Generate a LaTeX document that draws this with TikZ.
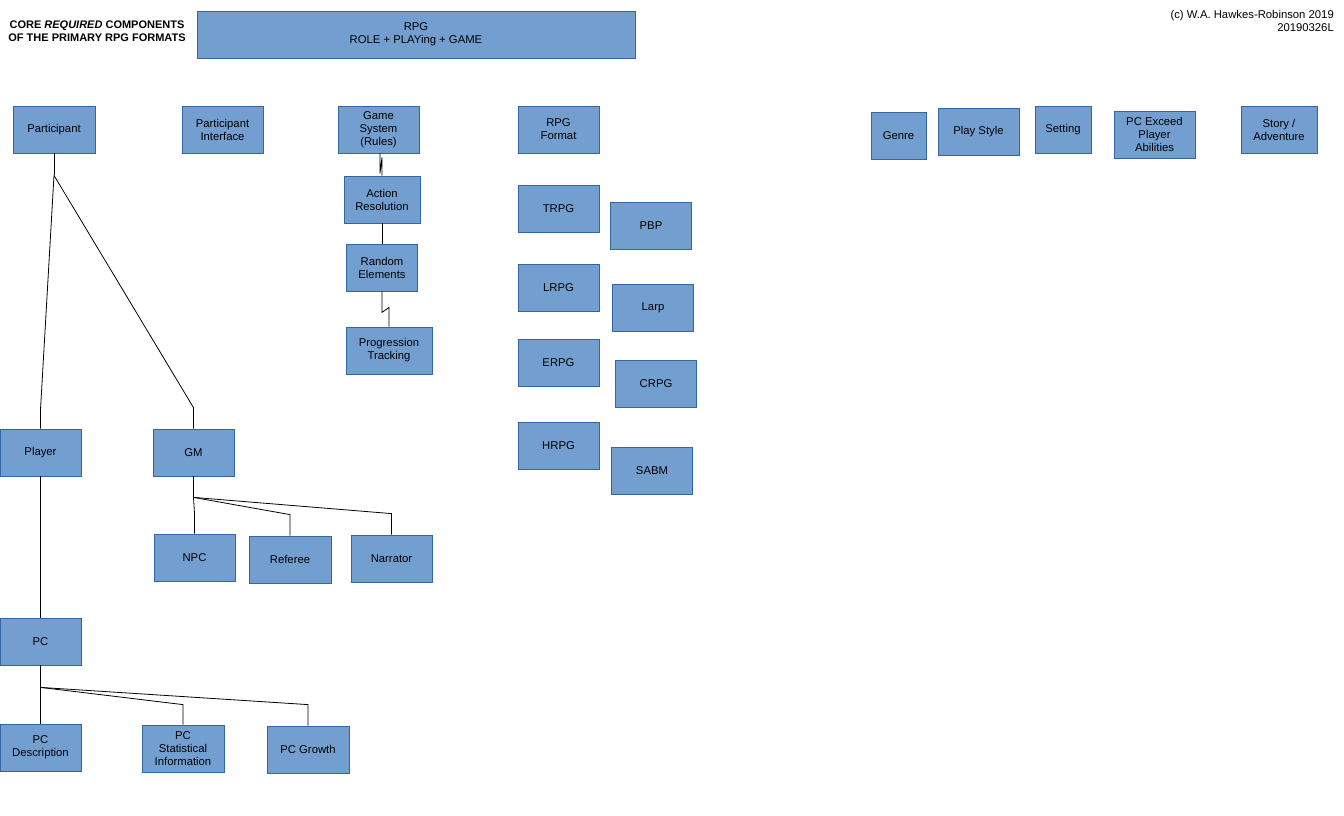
\documentclass[tikz,border=0pt]{standalone}
\usepackage{fontspec}
\setmainfont{Liberation Sans}
\usepackage{tikz}
\usetikzlibrary{calc}
\definecolor{boxfill}{HTML}{729FCF}
\definecolor{boxline}{HTML}{3465A4}
\tikzset{
  box/.style={draw=boxline, fill=boxfill, line width=0.8pt, align=center, inner sep=2pt,
              minimum width=81pt, minimum height=47pt, font=\fontsize{11.3}{13}\selectfont},
  conn/.style={draw=black, line width=0.8pt},
  lab/.style={font=\fontsize{11.3}{13}\selectfont, align=center, inner sep=0pt},
}

\begin{document}
\begin{tikzpicture}[x=1pt, y=-1pt]
    \useasboundingbox (0,0) rectangle (1344,816);
    % heading
    \node[lab, font=\fontsize{11}{13}\selectfont\bfseries] (heading) at (97,31) {CORE \textit{REQUIRED} COMPONENTS\\OF THE PRIMARY RPG FORMATS};
    \node[box, minimum width=438pt] (rpg) at (416,34.5) {RPG\\ROLE + PLAYing + GAME};
    \node[lab, align=right, anchor=north east] (copy) at (1334,10.5) {(c) W.A. Hawkes-Robinson 2019\\20190326L};
    % top row
    \node[box, minimum width=82pt] (participant) at (54,129.5) {Participant};
    \node[box] (pinterface) at (222.5,129.5) {Participant\\Interface};
    \node[box] (gamesys) at (378.5,129.5) {Game\\System\\(Rules)};
    \node[box] (rpgformat) at (558.5,129.5) {RPG\\Format};
    \node[box, minimum width=55pt] (genre) at (898.5,135.5) {Genre};
    \node[box] (playstyle) at (978.5,131.5) {Play Style};
    \node[box, minimum width=56pt] (setting) at (1063,129.5) {Setting};
    \node[box] (pcexceed) at (1154.5,134.5) {PC Exceed\\Player\\Abilities};
    \node[box, minimum width=76pt] (story) at (1279,129.5) {Story /\\Adventure};
    % game system chain
    \node[box, minimum width=76pt] (action) at (382,199.5) {Action\\Resolution};
    \node[box, minimum width=71pt] (random) at (382,267.5) {Random\\Elements};
    \node[box, minimum width=86pt] (progress) at (389,350.5) {Progression\\Tracking};
    % formats
    \foreach \name/\x/\y/\txt in {trpg/558.5/208.5/TRPG, lrpg/558.5/287.5/LRPG, erpg/558.5/362.5/ERPG,
        hrpg/558.5/445.5/HRPG, pbp/651/225.5/PBP, larp/653/307.5/Larp, crpg/656/383.5/CRPG, sabm/652/471/SABM}
      \node[box] (\name) at (\x,\y) {\txt};
    % participants
    \node[box] (player) at (40.5,452.5) {Player};
    \node[box] (gm) at (193.5,452.5) {GM};
    \node[box] (npc) at (194.5,557.5) {NPC};
    \node[box, minimum width=82pt] (referee) at (290,559.5) {Referee};
    \node[box] (narrator) at (391.5,558.5) {Narrator};
    \node[box] (pc) at (40.5,641.5) {PC};
    \node[box] (pcdesc) at (40.5,747.5) {PC\\Description};
    \node[box, minimum width=82pt] (pcstat) at (183,748.5) {PC\\Statistical\\Information};
    \node[box, minimum width=82pt] (pcgrowth) at (308,749.5) {PC Growth};
    % connectors
    \draw[conn] (participant.south) -- ++(0,22) coordinate (partj);
    \draw[conn] (partj) -- ($(player.north)+(0,-19)$) -- (player.north);
    \draw[conn] (partj) -- ($(gm.north)+(0,-21)$) -- (gm.north);
    \draw[conn] ($(gamesys.south)+(1.5,0)$) -- ++(0,20) -- ++(2,-16) -- (action.north);
    \draw[conn] (action.south) -- (random.north);
    \draw[conn] (random.south) -- ++(0,21) -- ++(7,-5) -- (progress.north);
    \draw[conn] (player.south) -- (pc.north);
    \draw[conn] (gm.south) -- ++(0,21) coordinate (gmj);
    \draw[conn] (gmj) -- ($(npc.north)+(0,-20)$) -- (npc.north);
    \draw[conn] (gmj) -- ($(referee.north)+(0,-21)$) -- (referee.north);
    \draw[conn] (gmj) -- ($(narrator.north)+(0,-21)$) -- (narrator.north);
    \draw[conn] (pc.south) -- ++(0,22) coordinate (pcj);
    \draw[conn] (pcj) -- (pcdesc.north);
    \draw[conn] (pcj) -- ($(pcstat.north)+(0,-20)$) -- (pcstat.north);
    \draw[conn] (pcj) -- ($(pcgrowth.north)+(0,-21)$) -- (pcgrowth.north);
\end{tikzpicture}
\end{document}
